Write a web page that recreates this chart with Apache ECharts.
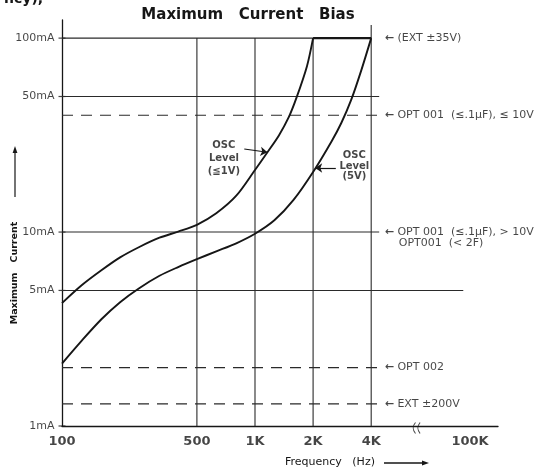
<!DOCTYPE html>
<html><head><meta charset="utf-8">
<script src="https://cdn.jsdelivr.net/npm/echarts@6/dist/echarts.min.js"></script>
<style>html,body{margin:0;padding:0;background:#fff}#c{width:556px;height:468px}</style>
</head><body><div id="c"></div>
<script>
// ---- axis ticks ----
const freqTicks = [100, 500, 1000, 2000, 4000];
const freqTickLabels = ['100', '500', '1K', '2K', '4K'];
const freqBreakTick = 13000;      // label shown past the axis break
const freqBreakLabel = '100K';
const freqBreakAt = 6880;         // where the axis break mark sits
const currentTicks = [1, 5, 10, 50, 100];
const currentTickLabels = ['1mA', '5mA', '10mA', '50mA', '100mA'];

// ---- curves (Hz, mA) ----
const osc1Freq    = [100, 126, 160, 200, 250, 320, 400, 500, 630, 800, 1000, 1160, 1330, 1496, 1641, 1859, 2000];
const osc1Current = [4.3, 5.3, 6.35, 7.4, 8.35, 9.35, 10.05, 10.9, 12.5, 15.4, 20.9, 25.8, 31.5, 39.1, 49.3, 71.7, 100];
const osc5Freq    = [100, 126, 160, 200, 250, 320, 400, 500, 630, 800, 1000, 1260, 1580, 2000, 2500, 2800, 3150, 3550, 4000];
const osc5Current = [2.1, 2.74, 3.55, 4.35, 5.12, 5.95, 6.6, 7.25, 7.95, 8.75, 9.8, 11.5, 14.6, 20.4, 29.5, 36.5, 48, 68, 100];
const limitFreq    = [2000, 4000];
const limitCurrent = [100, 100];

// ---- reference lines ----
const solidLevels    = [100, 50, 10, 5];
const solidLevelEnds = [4000, 4400, 4400, 12000];
const dashedLevels   = [40, 2, 1.3];
const dashedLevelEnd = 4400;
const gridFreqs    = [500, 1000, 2000, 4000];
const gridFreqTops = [100, 100, 100, 117];

// ---- annotations ----
const noteFreq = 4700;
const noteCurrents = [100, 40, 10, 2, 1.3];
const noteTexts = ['(EXT ±35V)', 'OPT 001  (≤.1μF), ≤ 10V', 'OPT 001  (≤.1μF), > 10V', 'OPT 002', 'EXT ±200V'];
const subNoteFreq = 5560, subNoteCurrent = 8.8, subNoteText = 'OPT001  (< 2F)';
const osc1LabelAt = [690, 24.0], osc1Label = 'OSC\nLevel\n(≦1V)';
const osc5LabelAt = [3272, 21.9], osc5Label = 'OSC\nLevel\n(5V)';
const osc1Arrow = [[880, 26.8], [1160, 25.8]];
const osc5Arrow = [[2623, 21.4], [2050, 21.4]];

const INK = '#161616';
const FONT = 'DejaVu Sans';
const zip = (a, b) => a.map((v, i) => [v, b[i]]);
const series = [];

solidLevels.forEach((lv, i) => series.push({
  type: 'line', data: [[100, lv], [solidLevelEnds[i], lv]], showSymbol: false, silent: true,
  lineStyle: { color: '#2a2a2a', width: 1.1 }
}));
dashedLevels.forEach(lv => series.push({
  type: 'line', data: [[100, lv], [dashedLevelEnd, lv]], showSymbol: false, silent: true,
  lineStyle: { color: '#2a2a2a', width: 1.1, type: [11, 8] }
}));
gridFreqs.forEach((f, i) => series.push({
  type: 'line', data: [[f, 1], [f, gridFreqTops[i]]], showSymbol: false, silent: true,
  lineStyle: { color: '#2a2a2a', width: 1.1 }
}));

series.push({
  type: 'line', name: 'OSC Level (≦1V)', data: zip(osc1Freq, osc1Current), showSymbol: false,
  smooth: 0.3, lineStyle: { color: INK, width: 1.9 },
  markLine: { silent: true, symbol: ['none', 'arrow'], symbolSize: 7, label: { show: false },
    lineStyle: { color: INK, width: 1.2, type: 'solid' },
    data: [[{ coord: osc1Arrow[0] }, { coord: osc1Arrow[1] }]] }
});
series.push({
  type: 'line', name: 'OSC Level (5V)', data: zip(osc5Freq, osc5Current), showSymbol: false,
  smooth: 0.3, lineStyle: { color: INK, width: 1.9 },
  markLine: { silent: true, symbol: ['none', 'arrow'], symbolSize: 7, label: { show: false },
    lineStyle: { color: INK, width: 1.2, type: 'solid' },
    data: [[{ coord: osc5Arrow[0] }, { coord: osc5Arrow[1] }]] }
});
series.push({
  type: 'line', data: zip(limitFreq, limitCurrent), showSymbol: false, silent: true,
  lineStyle: { color: INK, width: 2.2 }
});

// x tick labels
series.push({
  type: 'scatter', silent: true, symbolSize: 0,
  data: freqTicks.map((f, i) => ({ value: [f, 1], label: { formatter: freqTickLabels[i] } }))
    .concat([{ value: [freqBreakTick, 1], label: { formatter: freqBreakLabel } }]),
  label: { show: true, position: 'bottom', distance: 9, color: INK, fontFamily: FONT, fontWeight: 'bold', fontSize: 13 }
});
// axis break mark
series.push({
  type: 'scatter', silent: true, data: [[freqBreakAt, 1]],
  symbol: 'path://M4,0 Q0,6 4,12 M8,0 Q4,6 8,12', symbolSize: [7, 11], symbolOffset: [0, 2],
  itemStyle: { color: 'none', borderColor: INK, borderWidth: 1 }
});
// y tick labels + ticks
series.push({
  type: 'scatter', silent: true, symbol: 'rect', symbolSize: [7, 1.2], itemStyle: { color: INK },
  data: currentTicks.map((c, i) => ({ value: [100, c], label: { formatter: currentTickLabels[i] } })),
  label: { show: true, position: 'left', distance: 4, color: INK, fontFamily: FONT, fontSize: 11 }
});
// right annotations
series.push({
  type: 'scatter', silent: true, symbolSize: 0,
  data: noteCurrents.map((c, i) => ({ value: [noteFreq, c], label: { formatter: '{a|←} ' + noteTexts[i] } }))
    .concat([{ value: [subNoteFreq, subNoteCurrent], label: { formatter: subNoteText } }]),
  label: { show: true, position: 'right', distance: 0, color: INK, fontFamily: FONT, fontSize: 11,
    rich: { a: { fontSize: 11, fontFamily: FONT, color: INK, fontWeight: 'bold' } } }
});
// curve labels
series.push({
  type: 'scatter', silent: true, symbolSize: 0,
  data: [
    { value: osc1LabelAt, label: { formatter: osc1Label, lineHeight: 13 } },
    { value: osc5LabelAt, label: { formatter: osc5Label, lineHeight: 10.5 } }
  ],
  label: { show: true, position: 'inside', align: 'center', verticalAlign: 'middle', color: INK,
    fontFamily: FONT, fontWeight: 'bold', fontSize: 10 }
});

const chart = echarts.init(document.getElementById('c'), null, { renderer: 'canvas' });
chart.setOption({
  animation: false,
  backgroundColor: '#fff',
  grid: { left: 62, top: 20, width: 436, height: 406 },
  xAxis: { type: 'log', logBase: 10, min: 100, max: 18160,
    axisLine: { show: true, lineStyle: { color: INK, width: 1.3 } },
    axisTick: { show: false }, axisLabel: { show: false }, splitLine: { show: false }, minorSplitLine: { show: false } },
  yAxis: { type: 'log', logBase: 10, min: 1, max: 124,
    axisLine: { show: true, lineStyle: { color: INK, width: 1.3 } },
    axisTick: { show: false }, axisLabel: { show: false }, splitLine: { show: false } },
  series: series,
  graphic: [
    { type: 'text', x: 248, y: 15, silent: true,
      style: { text: 'Maximum   Current   Bias', font: 'bold 15px "DejaVu Sans"', fill: INK, textAlign: 'center', textVerticalAlign: 'middle' } },
    { type: 'text', x: 4, y: 6, silent: true,
      style: { text: 'ncy),', font: 'bold 14px "DejaVu Sans"', fill: INK, textAlign: 'left', textVerticalAlign: 'bottom' } },
    { type: 'text', x: 15, y: 273, rotation: Math.PI / 2, silent: true,
      style: { text: 'Maximum   Current', font: 'bold 9.5px "DejaVu Sans"', fill: INK, textAlign: 'center', textVerticalAlign: 'middle' } },
    { type: 'line', silent: true, shape: { x1: 15, y1: 197, x2: 15, y2: 152 }, style: { stroke: INK, lineWidth: 1.2 } },
    { type: 'polygon', silent: true, shape: { points: [[15, 146], [12.6, 153], [17.4, 153]] }, style: { fill: INK } },
    { type: 'text', x: 285, y: 462, silent: true,
      style: { text: 'Frequency   (Hz)', font: '11px "DejaVu Sans"', fill: INK, textAlign: 'left', textVerticalAlign: 'middle' } },
    { type: 'line', silent: true, shape: { x1: 384, y1: 463, x2: 423, y2: 463 }, style: { stroke: INK, lineWidth: 1.3 } },
    { type: 'polygon', silent: true, shape: { points: [[429, 463], [422, 460.5], [422, 465.5]] }, style: { fill: INK } }
  ]
});
</script></body></html>
